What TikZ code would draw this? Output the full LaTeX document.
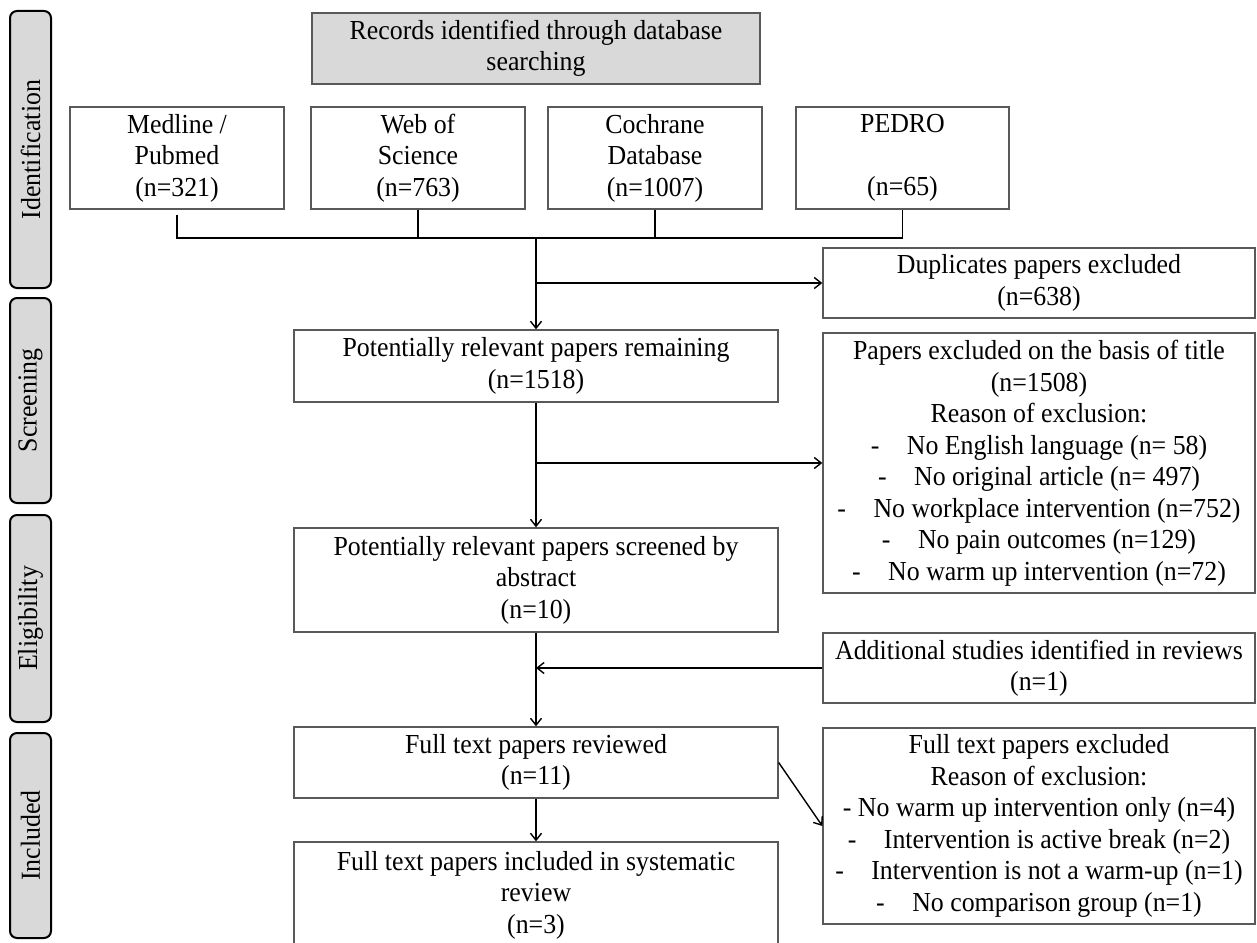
\documentclass[tikz,border=0pt]{standalone}
\usepackage{fontspec}
\setmainfont{Liberation Serif}[FakeStretch=0.94]
\usetikzlibrary{arrows.meta,positioning}
\definecolor{phasegray}{HTML}{D9D9D9}
\definecolor{boxline}{HTML}{595959}
\newcommand{\flowfont}{\fontsize{27.5}{31.5}\selectfont}

\begin{document}
\begin{tikzpicture}[
    x=1pt, y=-1pt,
    box/.style={rectangle, draw=boxline, line width=1.3pt, fill=white, align=center, inner sep=0pt, font=\flowfont},
    srcbox/.style={box, minimum width=214pt, minimum height=102pt},
    mainbox/.style={box, minimum width=484pt},
    sidebox/.style={box, minimum width=432pt},
    phase/.style={rectangle, draw=black, line width=2pt, fill=phasegray, rounded corners=7pt, rotate=90, minimum height=41pt, inner sep=0pt, font=\flowfont},
    line/.style={line width=1.4pt},
    arrow/.style={line, -{Straight Barb[length=7pt,width=11pt]}},
  ]
  \useasboundingbox (0,0) rectangle (1257,942);

  % phase bars
  \node[phase, minimum width=277pt] (ident) at (30.5,149.5) {Identification};
  \node[phase, minimum width=205pt] (screen) at (30.5,400.5) {Screening};
  \node[phase, minimum width=207pt] (elig) at (30.5,618.5) {Eligibility};
  \node[phase, minimum width=205pt] (incl) at (30.5,835.5) {Included};

  % identification
  \node[box, fill=phasegray, minimum width=448pt, minimum height=71pt] (records) at (536,48.5) {Records identified through database\\searching};
  \node[srcbox] (medline) at (177,158) {Medline /\\Pubmed\\(n=321)};
  \node[srcbox] (wos) at (418,158) {Web of\\Science\\(n=763)};
  \node[srcbox] (cochrane) at (655,158) {Cochrane\\Database\\(n=1007)};
  \node[srcbox, minimum width=213pt] (pedro) at (902.5,158) {PEDRO\\[31.5pt](n=65)};
  \coordinate (join) at (536,238);

  % main column
  \node[mainbox, minimum height=72pt] (remaining) at (536,366) {Potentially relevant papers remaining\\(n=1518)};
  \node[mainbox, minimum height=104pt] (abstract) at (536,580) {Potentially relevant papers screened by\\abstract\\(n=10)};
  \node[mainbox, minimum height=71pt] (reviewed) at (536,762.5) {Full text papers reviewed\\(n=11)};
  \node[mainbox, minimum height=106pt] (included) at (536,895) {Full text papers included in systematic\\review\\(n=3)};

  % side column
  \node[sidebox, minimum height=70pt] (dup) at (1039,283) {Duplicates papers excluded\\(n=638)};
  \node[sidebox, minimum height=260pt] (title) at (1039,463) {Papers excluded on the basis of title\\(n=1508)\\Reason of exclusion:\\-\quad No English language (n= 58)\\-\quad No original article (n= 497)\\-\quad No workplace intervention (n=752)\\-\quad No pain outcomes (n=129)\\-\quad No warm up intervention (n=72)};
  \node[sidebox, minimum height=70pt] (additional) at (1039,668) {Additional studies identified in reviews\\(n=1)};
  \node[sidebox, minimum height=196pt] (ftexcl) at (1039,826) {Full text papers excluded\\Reason of exclusion:\\- No warm up intervention only (n=4)\\-\quad Intervention is active break (n=2)\\-\quad Intervention is not a warm-up (n=1)\\-\quad No comparison group (n=1)};

  % connectors
  \draw[line] ([yshift=-5pt]medline.south) -- (medline.south |- join) -- (pedro.south |- join) -- (pedro.south);
  \draw[line] (wos.south) -- (wos.south |- join);
  \draw[line] (cochrane.south) -- (cochrane.south |- join);
  \draw[arrow] (join) -- (remaining.north);
  \draw[arrow] (join |- dup.west) -- (dup.west);
  \draw[arrow] (remaining.south) -- (abstract.north);
  \draw[arrow] (remaining.south |- title.west) -- (title.west);
  \draw[arrow] (abstract.south) -- (reviewed.north);
  \draw[arrow] (additional.west) -- (abstract.south |- additional.west);
  \draw[arrow] (reviewed.east) -- (ftexcl.west);
  \draw[arrow] (reviewed.south) -- (included.north);
\end{tikzpicture}
\end{document}
